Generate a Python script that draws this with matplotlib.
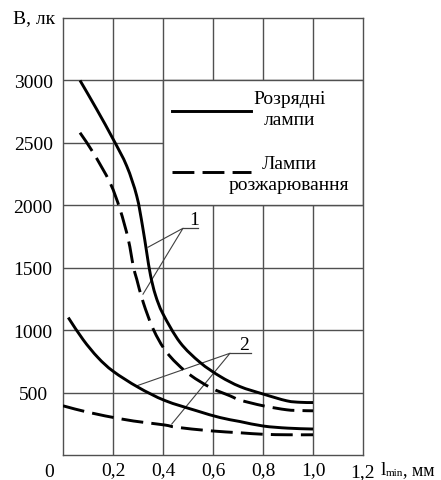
import matplotlib
matplotlib.use("Agg")
import matplotlib.pyplot as plt
from matplotlib.patches import Rectangle, PathPatch
from matplotlib.path import Path

# Font setup (Times-like serif with Cyrillic)
plt.rcParams['font.family'] = ['Liberation Serif', 'DejaVu Serif']

# Curve 1: discharge lamps (solid)
x_dis1 = [0.068, 0.135, 0.201, 0.255, 0.295, 0.318, 0.335, 0.350, 0.370, 0.400,
          0.468, 0.548, 0.628, 0.708, 0.801, 0.895, 0.950, 1.0]
y_dis1 = [3000, 2768, 2528, 2314, 2074, 1834, 1620, 1440, 1280, 1130,
          902, 742, 630, 548, 488, 434, 422, 420]

# Curve 1: incandescent lamps (dashed)
x_inc1 = [0.068, 0.121, 0.188, 0.228, 0.261, 0.281, 0.295, 0.321, 0.361, 0.415,
          0.495, 0.588, 0.668, 0.708, 0.801, 0.895, 0.950, 1.0]
y_inc1 = [2581, 2421, 2181, 1968, 1728, 1514, 1408, 1222, 1008, 822,
          662, 542, 474, 440, 394, 362, 356, 354]

# Curve 2: discharge lamps (solid)
x_dis2 = [0.021, 0.080, 0.140, 0.201, 0.301, 0.408, 0.535, 0.628, 0.708, 0.801, 0.900, 1.0]
y_dis2 = [1101, 925, 780, 670, 542, 436, 354, 300, 268, 232, 215, 208]

# Curve 2: incandescent lamps (dashed)
x_inc2 = [0.0, 0.101, 0.235, 0.321, 0.408, 0.455, 0.588, 0.708, 0.801, 0.900, 1.0]
y_inc2 = [394, 342, 288, 262, 240, 222, 194, 178, 166, 162, 162]

x_ticks = [0.2, 0.4, 0.6, 0.8, 1.0, 1.2]
x_tick_labels = ['0,2', '0,4', '0,6', '0,8', '1,0', '1,2']
y_ticks = [500, 1000, 1500, 2000, 2500, 3000]
y_tick_labels = ['500', '1000', '1500', '2000', '2500', '3000']

legend_labels = ['Розрядні\nлампи', 'Лампи\nрозжарювання']

grid_col = '#505050'
fs = 14


def smooth_curve(xs, ys):
    # cubic bezier path passing through the given points (Catmull-Rom tangents)
    pts = list(zip(xs, ys))
    n = len(pts)
    tang = []
    for i in range(n):
        a = pts[max(i - 1, 0)]
        b = pts[min(i + 1, n - 1)]
        k = 0.5 if 0 < i < n - 1 else 1.0
        tang.append(((b[0] - a[0]) * k, (b[1] - a[1]) * k))
    verts = [pts[0]]
    codes = [Path.MOVETO]
    for i in range(n - 1):
        p0, p1 = pts[i], pts[i + 1]
        verts.append((p0[0] + tang[i][0] / 3, p0[1] + tang[i][1] / 3))
        verts.append((p1[0] - tang[i + 1][0] / 3, p1[1] - tang[i + 1][1] / 3))
        verts.append(p1)
        codes += [Path.CURVE4] * 3
    return Path(verts, codes)


fig = plt.figure(figsize=(4.41, 4.81), dpi=100)
ax = fig.add_axes([63 / 441, 25 / 481, 300 / 441, 437 / 481])
ax.set_xlim(0, 1.2)
ax.set_ylim(0, 3500)

# grid
ax.set_axisbelow(True)
ax.set_xticks(x_ticks[:-1], x_tick_labels[:-1])
ax.set_yticks(y_ticks, y_tick_labels)
ax.grid(True, color=grid_col, linewidth=1.0)
for s in ax.spines.values():
    s.set_color(grid_col)
    s.set_linewidth(1.0)
ax.tick_params(length=0, labelsize=fs)
ax.tick_params(axis='y', pad=21.5)
ax.tick_params(axis='x', pad=4.5)
for lab in ax.get_yticklabels():
    lab.set_horizontalalignment('center')

# white legend box (hides inner grid)
ax.add_patch(Rectangle((0.4, 2000), 0.8, 1000, facecolor='white',
                       edgecolor=grid_col, linewidth=1.0, zorder=1))

dash = (0, (7.5, 2.8))
lw = 2.1
for xs, ys, ls in [(x_dis1, y_dis1, '-'), (x_inc1, y_inc1, dash),
                   (x_dis2, y_dis2, '-'), (x_inc2, y_inc2, dash)]:
    ax.add_patch(PathPatch(smooth_curve(xs, ys), facecolor='none',
                           edgecolor='black', lw=lw, linestyle=ls,
                           capstyle='butt', zorder=3))

# legend inside box
ax.plot([0.436, 0.752], [2752, 2752], color='black', lw=lw, zorder=3)
ax.plot([0.436, 0.752], [2264, 2264], color='black', lw=lw, linestyle=dash, zorder=3)
ax.text(0.905, 2768, legend_labels[0], ha='center', va='center', fontsize=fs,
        linespacing=1.3, zorder=4)
ax.text(0.905, 2248, legend_labels[1], ha='center', va='center', fontsize=fs,
        linespacing=1.3, zorder=4)

# leader labels
lc = '#404040'
ax.plot([0.48, 0.54], [1816, 1816], color=lc, lw=0.9, zorder=2)
ax.plot([0.34, 0.48, 0.32], [1664, 1816, 1288], color=lc, lw=0.8, zorder=2)
ax.text(0.525, 1816, '1', ha='center', va='bottom', fontsize=fs)

ax.plot([0.668, 0.752], [815, 815], color=lc, lw=0.9, zorder=2)
ax.plot([0.295, 0.668, 0.435], [554, 815, 248], color=lc, lw=0.8, zorder=2)
ax.text(0.725, 815, '2', ha='center', va='bottom', fontsize=fs)

# origin label, last x tick and axis labels
xt = ax.get_xaxis_transform()
yl = -0.037
ax.text(-0.056, yl, '0', transform=xt, ha='center', va='center', fontsize=fs)
ax.text(1.2, yl, x_tick_labels[-1], transform=xt, ha='center', va='center',
        fontsize=fs)
fig.text(381 / 441, 1 - 471 / 481, 'l', ha='left', va='center', fontsize=fs)
fig.text(386 / 441, 1 - 474 / 481, 'min', ha='left', va='center', fontsize=8)
fig.text(403 / 441, 1 - 471 / 481, ', мм', ha='left', va='center', fontsize=13)
fig.text(34 / 441, 1 - 19 / 481, 'В, лк', ha='center', va='center', fontsize=fs)

fig.savefig('out.png', dpi=100)
